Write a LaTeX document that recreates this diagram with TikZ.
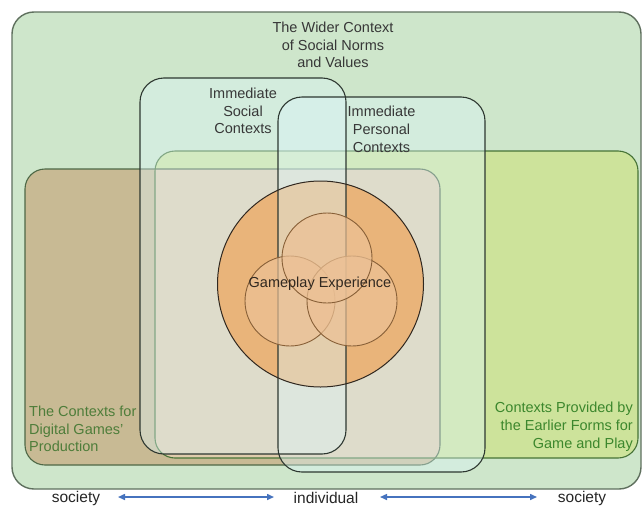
\documentclass[tikz,border=0pt]{standalone}
\usepackage{fontspec}
\setmainfont{Liberation Sans}
\usetikzlibrary{arrows.meta}
\definecolor{outerg}{RGB}{206,230,203}
\definecolor{outerb}{RGB}{95,112,94}
\definecolor{brownf}{RGB}{200,186,148}
\definecolor{brownb}{RGB}{78,104,70}
\definecolor{limef}{RGB}{205,227,155}
\definecolor{limeb}{RGB}{70,115,55}
\definecolor{beigef}{RGB}{224,204,172}
\definecolor{boxf}{RGB}{220,245,250}
\definecolor{boxb}{RGB}{45,55,48}
\definecolor{circbase}{RGB}{242,138,37}
\definecolor{circb}{RGB}{48,40,32}
\definecolor{smallf}{RGB}{236,193,150}
\definecolor{smallb}{RGB}{135,95,55}
\definecolor{greentxt}{RGB}{78,125,58}
\definecolor{greentxtb}{RGB}{60,135,45}
\definecolor{darktxt}{RGB}{55,55,55}
\definecolor{arrowc}{RGB}{70,115,190}
\tikzset{
  txt/.style={font=\fontsize{14.5}{17.8}\selectfont, inner sep=0pt, text=darktxt},
  scaletxt/.style={font=\fontsize{15.5}{18}\selectfont, inner sep=0pt, text=black!85},
  boxfill/.style={fill=boxf, fill opacity=0.4, rounded corners=24},
  boxline/.style={draw=boxb, line width=1.1, rounded corners=24},
  smallc/.style={fill=smallf, fill opacity=0.7, draw=smallb, line width=0.9},
  scale arrow/.style={draw=arrowc, line width=1.5, {Triangle[length=7pt,width=6pt]}-{Triangle[length=7pt,width=6pt]}}
}
\begin{document}
\begin{tikzpicture}[x=1pt,y=-1pt]
\useasboundingbox[fill=white] (0,0) rectangle (644,506);
% outer context
\draw[fill=outerg, draw=outerb, line width=1.4, rounded corners=22] (12,12) rectangle (641,489);
% production and earlier forms
\fill[brownf, rounded corners=20] (25,169) rectangle (440,465);
\fill[limef, rounded corners=20] (155,151) rectangle (638,458);
\begin{scope}
  \clip[rounded corners=20] (25,169) rectangle (440,465);
  \fill[beigef, rounded corners=20] (155,151) rectangle (638,458);
\end{scope}
\draw[brownb, line width=1.1, rounded corners=20] (25,169) rectangle (440,465);
\draw[limeb, line width=1.1, rounded corners=20] (155,151) rectangle (638,458);
% gameplay circle base
\fill[circbase] (320.5,284) circle (103);
% immediate contexts overlays
\fill[boxfill] (140,78) rectangle (346,454);
\fill[boxfill] (278,97) rectangle (485,472);
\draw[boxline] (140,78) rectangle (346,454);
\draw[boxline] (278,97) rectangle (485,472);
\draw[circb, line width=1] (320.5,284) circle (103);
% small circles
\path[smallc] (290,301) circle (45);
\path[smallc] (352,301) circle (45);
\path[smallc] (327,258) circle (45);
% texts
\node[txt, align=center] (wider) at (333,45) {The Wider Context\\of Social Norms\\and Values};
\node[txt, align=center] (social) at (243,111) {Immediate\\Social\\Contexts};
\node[txt, align=center] (personal) at (381.5,129.5) {Immediate\\Personal\\Contexts};
\node[txt, text=circb] (game) at (320,284) {Gameplay Experience};
\node[txt, align=left, anchor=west, text=greentxt] (prod) at (29,429) {The Contexts for\\Digital Games'\\Production};
\node[txt, align=right, anchor=east, text=greentxtb] (earlier) at (633,427) {Contexts Provided by\\the Earlier Forms for\\Game and Play};
% scale
\node[scaletxt] (socL) at (76,498) {society};
\node[scaletxt] (indiv) at (326,498) {individual};
\node[scaletxt] (socR) at (582,498) {society};
\coordinate (a1) at (118,497);
\coordinate (a2) at (274,497);
\coordinate (a3) at (380,497);
\coordinate (a4) at (537,497);
\draw[scale arrow] (a1) -- (a2);
\draw[scale arrow] (a3) -- (a4);
\end{tikzpicture}
\end{document}
